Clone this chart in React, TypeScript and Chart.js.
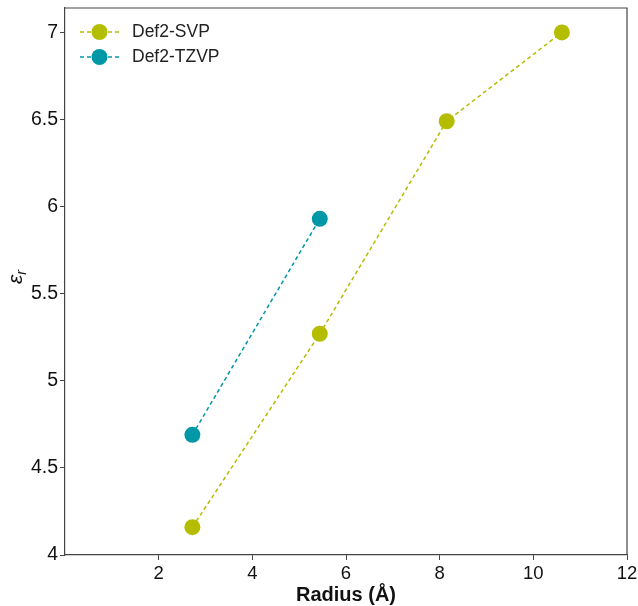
import React, { useEffect, useRef } from "react";
import { Chart, registerables } from "chart.js";

Chart.register(...registerables);

const radiusSVP = [2.72, 5.44, 8.15, 10.61];
const epsSVP = [4.16, 5.27, 6.49, 7.0];
const radiusTZVP = [2.72, 5.44];
const epsTZVP = [4.69, 5.93];
const xTicks = [2, 4, 6, 8, 10, 12];
const yTicks = [4, 4.5, 5, 5.5, 6, 6.5, 7];
const seriesNames = ["Def2-SVP", "Def2-TZVP"];
const seriesColors = ["#b5bd00", "#0097a7"];

const FONT = "'Liberation Sans', Arial, sans-serif";

export default function App() {
  const ref = useRef<HTMLCanvasElement | null>(null);
  useEffect(() => {
    document.body.style.margin = "0";
    const canvas = ref.current!;
    const overlay = {
      id: "overlay",
      afterDraw(chart: any) {
        const ctx = chart.ctx;
        const a = chart.chartArea;
        ctx.save();
        // top/right frame
        ctx.strokeStyle = "#444";
        ctx.lineWidth = 1.2;
        ctx.beginPath();
        ctx.moveTo(a.left, a.top);
        ctx.lineTo(a.right, a.top);
        ctx.lineTo(a.right, a.bottom);
        ctx.stroke();
        // legend
        seriesNames.forEach((name, i) => {
          const y = 32 + i * 25;
          ctx.strokeStyle = seriesColors[i];
          ctx.lineWidth = 1.5;
          ctx.setLineDash([4, 3]);
          ctx.beginPath();
          ctx.moveTo(a.left + 15, y);
          ctx.lineTo(a.left + 54, y);
          ctx.stroke();
          ctx.setLineDash([]);
          ctx.fillStyle = seriesColors[i];
          ctx.beginPath();
          ctx.arc(a.left + 34.5, y, 8, 0, Math.PI * 2);
          ctx.fill();
          ctx.fillStyle = "#222";
          ctx.font = `17.5px ${FONT}`;
          ctx.textAlign = "left";
          ctx.textBaseline = "middle";
          ctx.fillText(name, a.left + 67, y);
        });
        // x title
        ctx.fillStyle = "#111";
        ctx.font = `bold 20px ${FONT}`;
        ctx.textAlign = "center";
        ctx.textBaseline = "alphabetic";
        ctx.fillText("Radius (Å)", (a.left + a.right) / 2, 601);
        // y title
        ctx.translate(22, 277);
        ctx.rotate(-Math.PI / 2);
        ctx.font = `italic 21px ${FONT}`;
        ctx.textAlign = "left";
        ctx.textBaseline = "alphabetic";
        const w1 = ctx.measureText("ε").width;
        ctx.font = `italic 14px ${FONT}`;
        const w2 = ctx.measureText("r").width;
        const start = -(w1 + w2) / 2;
        ctx.font = `italic 21px ${FONT}`;
        ctx.fillText("ε", start, 0);
        ctx.font = `italic 14px ${FONT}`;
        ctx.fillText("r", start + w1, 4);
        ctx.restore();
      },
    };
    const chart = new Chart(canvas, {
      type: "line",
      data: {
        datasets: [
          {
            label: seriesNames[0],
            data: radiusSVP.map((x, i) => ({ x, y: epsSVP[i] })),
            borderColor: seriesColors[0],
            backgroundColor: seriesColors[0],
            borderWidth: 1.5,
            borderDash: [4, 3],
            pointRadius: 8,
            pointBorderWidth: 0,
            pointBackgroundColor: seriesColors[0],
          },
          {
            label: seriesNames[1],
            data: radiusTZVP.map((x, i) => ({ x, y: epsTZVP[i] })),
            borderColor: seriesColors[1],
            backgroundColor: seriesColors[1],
            borderWidth: 1.5,
            borderDash: [4, 3],
            pointRadius: 8,
            pointBorderWidth: 0,
            pointBackgroundColor: seriesColors[1],
          },
        ],
      },
      options: {
        animation: false,
        responsive: false,
        devicePixelRatio: 1,
        layout: { padding: { top: 8, right: 11, left: 0, bottom: 0 } },
        plugins: { legend: { display: false }, tooltip: { enabled: false } },
        scales: {
          x: {
            type: "linear",
            min: 0,
            max: 12,
            afterBuildTicks: (s: any) => {
              s.ticks = xTicks.map((v) => ({ value: v }));
            },
            afterFit: (s: any) => {
              s.height = 51;
              s.paddingRight = 0;
              s.paddingLeft = 0;
            },
            grid: { display: true, drawOnChartArea: false, drawTicks: true, tickLength: 5, color: "#444", tickWidth: 1 },
            border: { display: true, color: "#444", width: 1.2 },
            ticks: {
              color: "#111",
              font: { family: FONT, size: 18.5 },
              padding: 3,
              maxRotation: 0,
              autoSkip: false,
              callback: (v: any) => String(v),
            },
          },
          y: {
            type: "linear",
            min: 4,
            max: 7.14,
            afterBuildTicks: (s: any) => {
              s.ticks = yTicks.map((v) => ({ value: v }));
            },
            afterFit: (s: any) => {
              s.width = 65;
              s.paddingTop = 0;
              s.paddingBottom = 0;
            },
            grid: { display: true, drawOnChartArea: false, drawTicks: true, tickLength: 5, color: "#444", tickWidth: 1 },
            border: { display: true, color: "#444", width: 1.2 },
            ticks: {
              color: "#111",
              font: { family: FONT, size: 19.5 },
              padding: 2,
              autoSkip: false,
              callback: (v: any) => String(v),
            },
          },
        },
      },
      plugins: [overlay],
    } as any);
    return () => chart.destroy();
  }, []);
  return <canvas ref={ref} width={638} height={606} style={{ display: "block" }} />;
}
